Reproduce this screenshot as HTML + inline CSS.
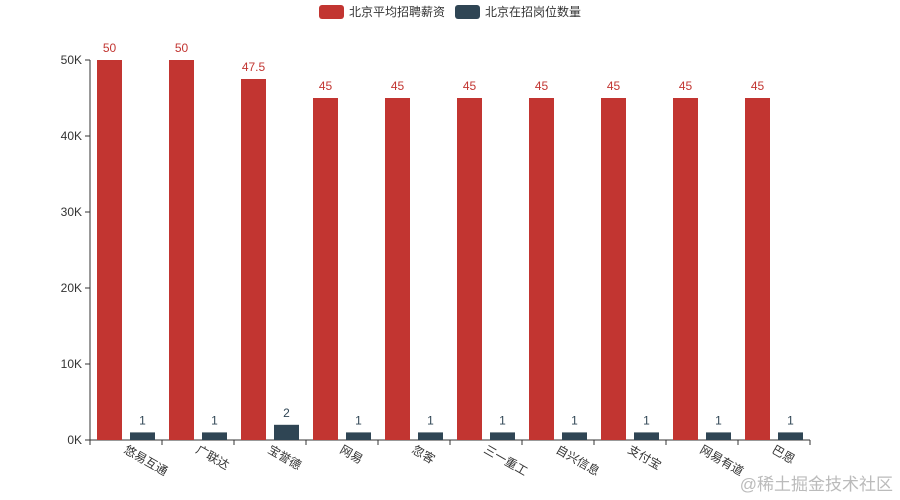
<!DOCTYPE html>
<html><head><meta charset="utf-8"><style>
body{margin:0;background:#fff;}
svg{display:block;font-family:"Liberation Sans","Noto Sans CJK SC",sans-serif;}
</style></head><body>
<svg id="c" width="900" height="500"></svg>
<script>
const categories=["悠易互通","广联达","宝誉德","网易","忽客","三一重工","自兴信息","支付宝","网易有道","巴恩"];
const salaryK=[50,50,47.5,45,45,45,45,45,45,45];
const jobCount=[1,1,2,1,1,1,1,1,1,1];
const yTicks=[0,10000,20000,30000,40000,50000];
const yTickLabels=["0K","10K","20K","30K","40K","50K"];
const svg=document.getElementById('c');
const NS="http://www.w3.org/2000/svg";
function mk(t,a,p){const e=document.createElementNS(NS,t);for(const k in a)e.setAttribute(k,a[k]);(p||svg).appendChild(e);return e;}
const x0=90,x1=810,y0=440,y1=60,yMax=50000;
const Y=v=>y0-(v/yMax)*(y0-y1);
const bw=(x1-x0)/categories.length;
const X=i=>x0+bw*i;
let ax=mk('line',{x1:x0,y1:y1,x2:x0,y2:y0,stroke:'#333'});


yTicks.forEach((v,i)=>{
  const t=mk('line',{x1:x0-5,y1:Y(v),x2:x0,y2:Y(v),stroke:'#333'});
  
  
  const l=mk('text',{x:x0-8,y:Y(v)+4,'text-anchor':'end','font-size':12,fill:'#333'});
  l.textContent=yTickLabels[i];
  
  
});
let xa=mk('line',{x1:x0,y1:y0,x2:x1,y2:y0,stroke:'#333'});


for(let i=0;i<=categories.length;i++){
  const t=mk('line',{x1:X(i),y1:y0,x2:X(i),y2:y0+5,stroke:'#333'});
  
  
}
categories.forEach((c,i)=>{
  const cx=X(i)+bw/2;
  const l=mk('text',{x:cx-3,y:y0+12,'font-size':12,fill:'#333',transform:`rotate(30 ${cx-3} ${y0+12})`});
  l.textContent=c;
  
  
  const rv=salaryK[i]*1000, dv=jobCount[i]*1000;
  const rx=X(i)+7, dx=X(i)+40;
  const r=mk('rect',{x:rx,y:Y(rv),width:25,height:y0-Y(rv),fill:'#c23531'});
  
  
  const rl=mk('text',{x:rx+12.5,y:Y(rv)-8,'text-anchor':'middle','font-size':12,fill:'#c23531'});
  rl.textContent=salaryK[i];
  
  
  const d=mk('rect',{x:dx,y:Y(dv),width:25,height:y0-Y(dv),fill:'#2f4554'});
  
  
  const dl=mk('text',{x:dx+12.5,y:Y(dv)-8,'text-anchor':'middle','font-size':12,fill:'#2f4554'});
  dl.textContent=jobCount[i];
  
  
});
const lg=mk('g',{});


[[319,'#c23531','北京平均招聘薪资'],[455,'#2f4554','北京在招岗位数量']].forEach(([x,col,txt])=>{
  const g=mk('g',{},lg);
  
  
  mk('rect',{x:x,y:5,width:25,height:14,rx:3,fill:col},g);
  const t=mk('text',{x:x+30,y:16,'font-size':12,fill:'#333'},g);
  t.textContent=txt;
});
const w=mk('text',{x:893,y:490,'text-anchor':'end','font-size':17,fill:'#bbb'});
w.textContent='@稀土掘金技术社区';


</script>
</body></html>
